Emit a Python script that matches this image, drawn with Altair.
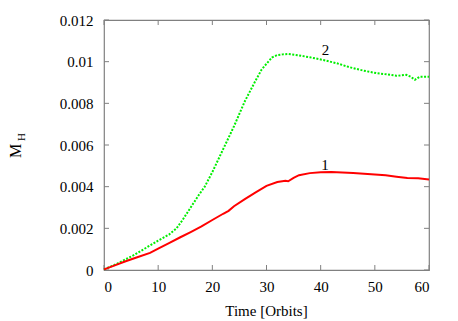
import altair as alt
import pandas as pd

# Series 1 (red, solid)
t1 = [0, 2, 4, 6, 8.5, 10, 12, 14, 16, 18, 20, 22, 23, 24, 26, 28, 30, 32, 33.5, 34,
      35, 36, 38, 40, 42, 44, 46, 48, 50, 52, 54, 56, 58, 60]
m1 = [0.00003, 0.00022, 0.00042, 0.0006, 0.00082, 0.00103, 0.00129, 0.00156, 0.00182,
      0.00209, 0.0024, 0.0027, 0.00284, 0.00306, 0.0034, 0.00373, 0.00404, 0.00422,
      0.00428, 0.00426, 0.00442, 0.00455, 0.00465, 0.00469, 0.0047, 0.00468, 0.00466,
      0.00462, 0.00458, 0.00455, 0.00448, 0.00442, 0.0044, 0.00434]

# Series 2 (green, dotted)
t2 = [0, 2, 5.4, 8, 10, 12, 13.4, 14.5, 15.5, 16.5, 17.5, 18.6, 20, 22, 24, 26, 28,
      29.1, 30, 31, 32, 33, 34, 36, 38, 40.5, 43, 45.4, 47.9, 50.3, 52.8, 54, 55.8,
      56.6, 57.4, 58.3, 60]
m2 = [0.00003, 0.00025, 0.0007, 0.0011, 0.00141, 0.0017, 0.002, 0.0024, 0.0028,
      0.0032, 0.0036, 0.004, 0.0047, 0.0058, 0.0069, 0.0081, 0.0091, 0.00962, 0.0099,
      0.0102, 0.01032, 0.01035, 0.01037, 0.0103, 0.01021, 0.01008, 0.00992, 0.00973,
      0.00957, 0.00945, 0.00937, 0.00932, 0.00937, 0.00928, 0.00913, 0.00928, 0.00928]

labels = ["1", "2"]
label_t = [40.8, 40.9]
label_m = [0.00505, 0.01056]

x_ticks = [0, 10, 20, 30, 40, 50, 60]
y_ticks = [0, 0.002, 0.004, 0.006, 0.008, 0.01, 0.012]
x_title = "Time [Orbits]"

W, H = 325, 250
FONT = "Liberation Serif"
GRAY = "#808080"

df1 = pd.DataFrame({"t": t1, "m": m1})
df2 = pd.DataFrame({"t": t2, "m": m2})
dl = pd.DataFrame({"t": label_t, "m": label_m, "label": labels})
dxt = pd.DataFrame({"t": x_ticks})
dyt = pd.DataFrame({"m": y_ticks})

xs = alt.Scale(domain=[0, 60], nice=False, zero=False)
ys = alt.Scale(domain=[0, 0.012], nice=False)

xax = alt.Axis(values=x_ticks, ticks=False, domain=False, grid=False,
               labelFont=FONT, labelFontSize=15, labelColor="black", labelPadding=9,
               title=None)
yax = alt.Axis(values=y_ticks, ticks=False, domain=False, grid=False, format="~g",
               labelFont=FONT, labelFontSize=15, labelColor="black", labelPadding=11,
               title=None)

red = alt.Chart(df1).mark_line(color="#ff0000", strokeWidth=2).encode(
    x=alt.X("t:Q", scale=xs, axis=xax),
    y=alt.Y("m:Q", scale=ys, axis=yax),
)
green = alt.Chart(df2).mark_line(color="#00ee00", strokeWidth=2, strokeDash=[2, 1.5]).encode(
    x=alt.X("t:Q", scale=xs),
    y=alt.Y("m:Q", scale=ys),
)
txt = alt.Chart(dl).mark_text(font=FONT, fontSize=15, color="black", baseline="middle").encode(
    x=alt.X("t:Q", scale=xs),
    y=alt.Y("m:Q", scale=ys),
    text="label:N",
)

TL = 5
tb = alt.Chart(dxt).mark_rule(color=GRAY).encode(
    x=alt.X("t:Q", scale=xs), y=alt.value(H), y2=alt.value(H - TL))
tt = alt.Chart(dxt).mark_rule(color=GRAY).encode(
    x=alt.X("t:Q", scale=xs), y=alt.value(0), y2=alt.value(TL))
tlf = alt.Chart(dyt).mark_rule(color=GRAY).encode(
    y=alt.Y("m:Q", scale=ys), x=alt.value(0), x2=alt.value(TL))
trt = alt.Chart(dyt).mark_rule(color=GRAY).encode(
    y=alt.Y("m:Q", scale=ys), x=alt.value(W), x2=alt.value(W - TL))

xtitle = alt.Chart(pd.DataFrame({"s": [x_title]})).mark_text(
    font=FONT, fontSize=15, fontWeight="normal", color="black", baseline="middle", align="center"
).encode(x=alt.value(W / 2), y=alt.value(H + 41), text="s:N")
ytitle_m = alt.Chart(pd.DataFrame({"s": ["M"]})).mark_text(
    font=FONT, fontSize=16, color="black", angle=270, baseline="middle", align="center"
).encode(x=alt.value(-88), y=alt.value(131), text="s:N")
ytitle_h = alt.Chart(pd.DataFrame({"s": ["H"]})).mark_text(
    font=FONT, fontSize=11, color="black", angle=270, baseline="middle", align="center"
).encode(x=alt.value(-82), y=alt.value(117), text="s:N")

chart = alt.layer(tb, tt, tlf, trt, green, red, txt, xtitle, ytitle_m, ytitle_h).properties(
    width=W, height=H,
    background="white",
    autosize=alt.AutoSizeParams(type="none"),
    padding={"left": 96, "top": 12, "right": 20, "bottom": 52},
).configure_view(stroke=GRAY, strokeWidth=1.2)

chart.save("out.html", embed_options={"renderer": "svg", "actions": False})
